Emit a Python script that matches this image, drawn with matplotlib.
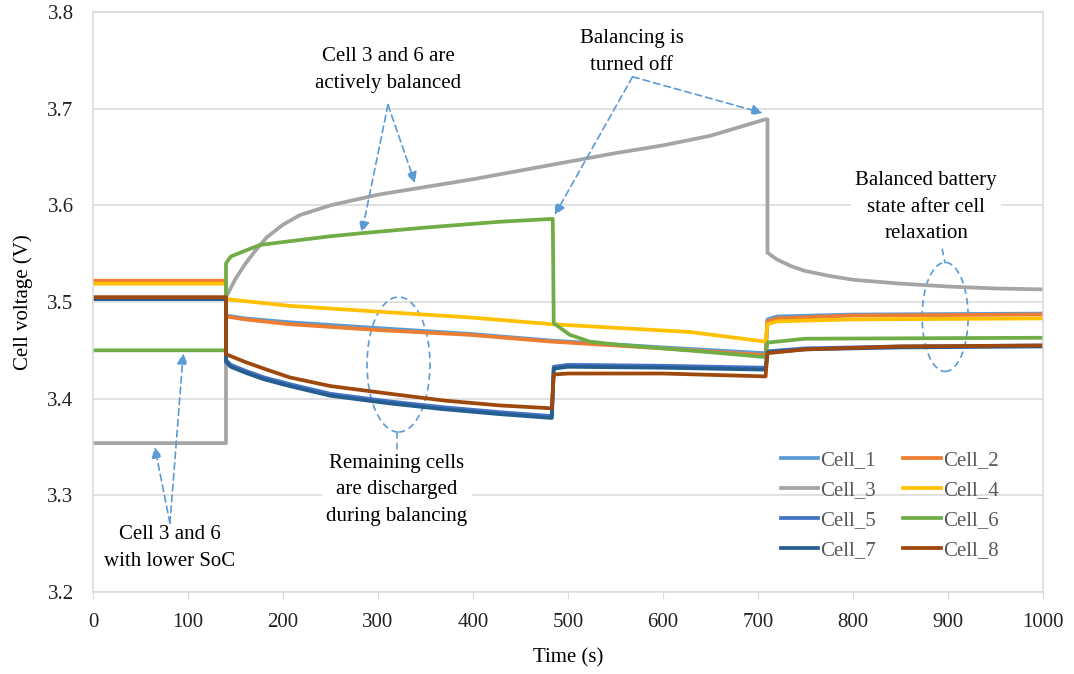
import matplotlib
matplotlib.use('Agg')
import matplotlib.pyplot as plt
from matplotlib.patches import Ellipse

plt.rcParams['font.family'] = ['Liberation Serif', 'DejaVu Serif']

# time (s) / voltage (V), steps as repeated times
t_c1 = [0, 140, 140, 160, 207, 300, 397, 483, 600, 708, 710, 720, 800, 1000]
v_c1 = [3.504, 3.504, 3.486, 3.483, 3.479, 3.473, 3.467, 3.460, 3.453, 3.447, 3.482, 3.485, 3.487, 3.488]

t_c2 = [0, 140, 140, 160, 207, 300, 397, 483, 600, 708, 710, 720, 800, 1000]
v_c2 = [3.522, 3.522, 3.485, 3.482, 3.477, 3.471, 3.466, 3.459, 3.452, 3.445, 3.480, 3.483, 3.486, 3.487]

t_c3 = [0, 140, 140, 150, 160, 170, 183, 200, 218, 250, 300, 350, 400, 450, 500, 550,
        600, 650, 708, 710, 710, 720, 735, 750, 775, 800, 850, 900, 950, 1000]
v_c3 = [3.354, 3.354, 3.505, 3.524, 3.539, 3.552, 3.567, 3.580, 3.590, 3.600, 3.611, 3.619,
        3.627, 3.636, 3.645, 3.654, 3.662, 3.672, 3.689, 3.689, 3.551, 3.544, 3.537, 3.532,
        3.527, 3.523, 3.519, 3.516, 3.514, 3.513]

t_c4 = [0, 140, 140, 207, 300, 397, 483, 628, 708, 710, 720, 800, 1000]
v_c4 = [3.519, 3.519, 3.503, 3.496, 3.490, 3.484, 3.477, 3.469, 3.459, 3.477, 3.480, 3.482, 3.483]

t_c5 = [0, 140, 140, 145, 160, 180, 207, 250, 313, 370, 428, 483, 485, 500, 600, 708,
        710, 750, 850, 1000]
v_c5 = [3.503, 3.503, 3.440, 3.435, 3.429, 3.422, 3.415, 3.405, 3.397, 3.391, 3.386,
        3.382, 3.433, 3.435, 3.434, 3.432, 3.449, 3.452, 3.454, 3.455]

t_c6 = [0, 140, 140, 145, 160, 176, 200, 250, 281, 350, 428, 484, 485, 502, 523, 550,
        600, 650, 708, 710, 750, 1000]
v_c6 = [3.450, 3.450, 3.540, 3.547, 3.553, 3.559, 3.562, 3.568, 3.571, 3.577, 3.583,
        3.586, 3.478, 3.466, 3.459, 3.456, 3.452, 3.448, 3.443, 3.458, 3.462, 3.463]

t_c7 = [0, 140, 140, 145, 160, 180, 207, 250, 313, 370, 428, 483, 485, 500, 600, 708,
        710, 750, 850, 1000]
v_c7 = [3.503, 3.503, 3.438, 3.433, 3.427, 3.420, 3.413, 3.403, 3.395, 3.389, 3.384,
        3.380, 3.431, 3.433, 3.432, 3.430, 3.448, 3.451, 3.453, 3.454]

t_c8 = [0, 140, 140, 160, 180, 207, 250, 313, 370, 428, 483, 485, 500, 600, 708, 710,
        750, 850, 1000]
v_c8 = [3.505, 3.505, 3.446, 3.438, 3.431, 3.422, 3.413, 3.405, 3.398, 3.393, 3.390,
        3.425, 3.426, 3.426, 3.423, 3.447, 3.451, 3.454, 3.455]

cells = ['Cell_1', 'Cell_2', 'Cell_3', 'Cell_4', 'Cell_5', 'Cell_6', 'Cell_7', 'Cell_8']
times = [t_c1, t_c2, t_c3, t_c4, t_c5, t_c6, t_c7, t_c8]
volts = [v_c1, v_c2, v_c3, v_c4, v_c5, v_c6, v_c7, v_c8]
colors = ['#5B9BD5', '#ED7D31', '#A5A5A5', '#FFC000', '#4472C4', '#70AD47', '#255E91', '#9E480E']

ANN = '#5B9BD5'
FS = 15
DASH = (0, (4, 2.5))

fig = plt.figure(figsize=(10.74, 6.74), dpi=100)
ax = fig.add_axes([0.0866, 0.1217, 0.8845, 0.8605])

lines = []
for name, t, v, c in zip(cells, times, volts, colors):
    ln, = ax.plot(t, v, color=c, lw=2.7, label=name, solid_joinstyle='round')
    lines.append(ln)

ax.set_xlim(0, 1000)
ax.set_ylim(3.2, 3.8)
ax.set_xticks(range(0, 1001, 100))
ax.set_yticks([3.2, 3.3, 3.4, 3.5, 3.6, 3.7, 3.8])
ax.set_yticklabels(['3.2', '3.3', '3.4', '3.5', '3.6', '3.7', '3.8'])
ax.grid(axis='y', color='#D9D9D9', lw=1.1)
ax.set_axisbelow(True)
for s in ax.spines.values():
    s.set_color('#D9D9D9')
    s.set_linewidth(1.1)
ax.tick_params(axis='x', direction='out', length=5, color='#D9D9D9', labelsize=FS,
               labelcolor='#222222', pad=10)
ax.tick_params(axis='y', length=0, labelsize=FS, labelcolor='#222222', pad=14)
ax.set_xlabel('Time (s)', fontsize=FS, labelpad=12)
ax.set_ylabel('Cell voltage (V)', fontsize=FS, labelpad=10)

# legend filled row by row like the original
order = [0, 2, 4, 6, 1, 3, 5, 7]
leg = ax.legend([lines[i] for i in order], [cells[i] for i in order],
                loc='upper left', bbox_to_anchor=(0.724, 0.244), ncol=2, frameon=False,
                fontsize=FS, handlelength=1.8, handletextpad=0.1, columnspacing=1.3,
                labelspacing=0.5, borderaxespad=0, borderpad=0)
for txt in leg.get_texts():
    txt.set_color('#595959')

box = dict(facecolor='white', edgecolor='none', pad=3)
arrow = dict(arrowstyle='-|>', color=ANN, lw=1.2, linestyle=DASH,
             mutation_scale=16, shrinkA=0, shrinkB=0)
tkw = dict(ha='center', va='center', fontsize=FS, bbox=box, linespacing=1.55)

# annotations
ax.text(310.5, 3.740, 'Cell 3 and 6 are\nactively balanced', **tkw)
ax.annotate('', xy=(283, 3.572), xytext=(310.5, 3.704), arrowprops=arrow)
ax.annotate('', xy=(339, 3.623), xytext=(310.5, 3.704), arrowprops=arrow)

ax.text(567, 3.7586, 'Balancing is\nturned off', **tkw)
ax.annotate('', xy=(486, 3.590), xytext=(568, 3.733), arrowprops=arrow)
ax.annotate('', xy=(705, 3.6955), xytext=(568, 3.733), arrowprops=arrow)

ax.text(877, 3.598, 'Balanced battery\nstate after cell\nrelaxation', **tkw)
ax.plot([891.6, 897], [3.566, 3.540], color=ANN, lw=1.2, ls=DASH)
ax.add_patch(Ellipse((897, 3.4845), 48.4, 0.1128, fill=False, edgecolor=ANN, lw=1.2,
                     ls=DASH))

ax.text(320, 3.3055, 'Remaining cells\nare discharged\nduring balancing', **tkw)
ax.plot([320, 320], [3.3655, 3.3397], color=ANN, lw=1.2, ls=DASH)
ax.add_patch(Ellipse((321.6, 3.4353), 66.3, 0.1397, fill=False, edgecolor=ANN, lw=1.2,
                     ls=DASH))

ax.text(81, 3.2455, 'Cell 3 and 6\nwith lower SoC', **tkw)
ax.annotate('', xy=(65, 3.350), xytext=(81, 3.271), arrowprops=arrow)
ax.annotate('', xy=(95, 3.447), xytext=(81, 3.271), arrowprops=arrow)

fig.savefig('out.png', dpi=100)
